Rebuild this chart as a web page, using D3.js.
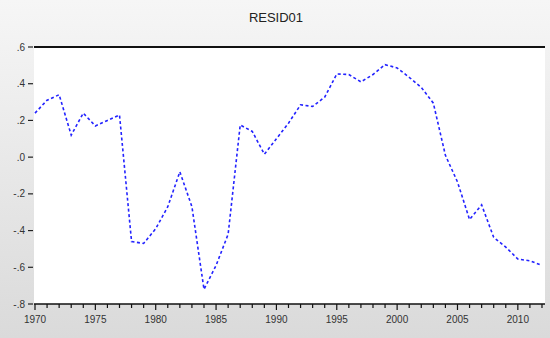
<!DOCTYPE html>
<html>
<head>
<meta charset="utf-8">
<script src="https://cdn.jsdelivr.net/npm/d3@7"></script>
<style>
  html, body { margin: 0; padding: 0; background: #fff; }
  svg { display: block; font-family: "Liberation Sans", Arial, sans-serif; }
</style>
</head>
<body>
<svg id="chart" width="550" height="338"></svg>
<script>
// RESID01, annual 1970-2012
const years = d3.range(1970, 2013);
const resid = [
  0.24, 0.31, 0.34, 0.12, 0.24, 0.17, 0.20, 0.23, -0.46, -0.47,
  -0.39, -0.27, -0.08, -0.27, -0.72, -0.59, -0.42, 0.175, 0.14, 0.016,
  0.10, 0.185, 0.285, 0.276, 0.327, 0.453, 0.45, 0.41, 0.45, 0.504,
  0.486, 0.435, 0.38, 0.294, 0.01, -0.135, -0.34, -0.26, -0.437, -0.49,
  -0.555, -0.565, -0.59
];
const yTicks = [0.6, 0.4, 0.2, 0.0, -0.2, -0.4, -0.6, -0.8];
const yTickLabels = [".6", ".4", ".2", ".0", "-.2", "-.4", "-.6", "-.8"];
const xLabelYears = [1970, 1975, 1980, 1985, 1990, 1995, 2000, 2005, 2010];

const W = 550, H = 338;
const plotL = 34, plotR = 545, plotT = 47, plotB = 304;

const svg = d3.select("#chart");

// background gradient like the EViews frame
const grad = svg.append("defs").append("linearGradient")
  .attr("id", "bg").attr("x1", 0).attr("y1", 0).attr("x2", 0).attr("y2", 1);
grad.append("stop").attr("offset", "0%").attr("stop-color", "#f6f6f6");
grad.append("stop").attr("offset", "100%").attr("stop-color", "#dadada");

svg.append("rect").attr("width", W).attr("height", H).attr("fill", "url(#bg)");
svg.append("rect")
  .attr("x", plotL).attr("y", plotT)
  .attr("width", plotR - plotL).attr("height", plotB - plotT)
  .attr("fill", "#fff");

const x = d3.scaleLinear().domain([1970, 2012.25]).range([35, plotR]);
const y = d3.scaleLinear().domain([-0.8, 0.6]).range([plotB, plotT]);

// title
svg.append("text")
  .attr("x", 276).attr("y", 22)
  .attr("text-anchor", "middle")
  .attr("font-size", 13)
  .attr("fill", "#222")
  .text("RESID01");

// top frame line at .6
svg.append("line")
  .attr("x1", plotL).attr("x2", plotR)
  .attr("y1", y(0.6)).attr("y2", y(0.6))
  .attr("stroke", "#111").attr("stroke-width", 2);

// y axis ticks + labels
const yg = svg.append("g");
yTicks.forEach((v, i) => {
  yg.append("line")
    .attr("x1", 28).attr("x2", plotL - 1)
    .attr("y1", y(v)).attr("y2", y(v))
    .attr("stroke", "#222").attr("stroke-width", 1.2);
  yg.append("text")
    .attr("x", 25).attr("y", y(v) + 3.5)
    .attr("text-anchor", "end")
    .attr("font-size", 10)
    .attr("fill", "#333")
    .text(yTickLabels[i]);
});

// x axis
const xg = svg.append("g");
xg.append("line")
  .attr("x1", plotL).attr("x2", plotR)
  .attr("y1", plotB).attr("y2", plotB)
  .attr("stroke", "#111").attr("stroke-width", 1.5);
years.forEach(yr => {
  const major = yr % 5 === 0;
  xg.append("line")
    .attr("x1", x(yr)).attr("x2", x(yr))
    .attr("y1", plotB).attr("y2", plotB + (major ? 6 : 4))
    .attr("stroke", "#111").attr("stroke-width", 1.2);
});
xLabelYears.forEach(yr => {
  xg.append("text")
    .attr("x", x(yr)).attr("y", plotB + 19)
    .attr("text-anchor", "middle")
    .attr("font-size", 10)
    .attr("fill", "#333")
    .text(yr);
});

// series
const line = d3.line()
  .x((d, i) => x(years[i]))
  .y(d => y(d));

svg.append("path")
  .datum(resid)
  .attr("d", line)
  .attr("fill", "none")
  .attr("stroke", "#2323ff")
  .attr("stroke-width", 1.6)
  .attr("stroke-dasharray", "3,2.5");
</script>
</body>
</html>
